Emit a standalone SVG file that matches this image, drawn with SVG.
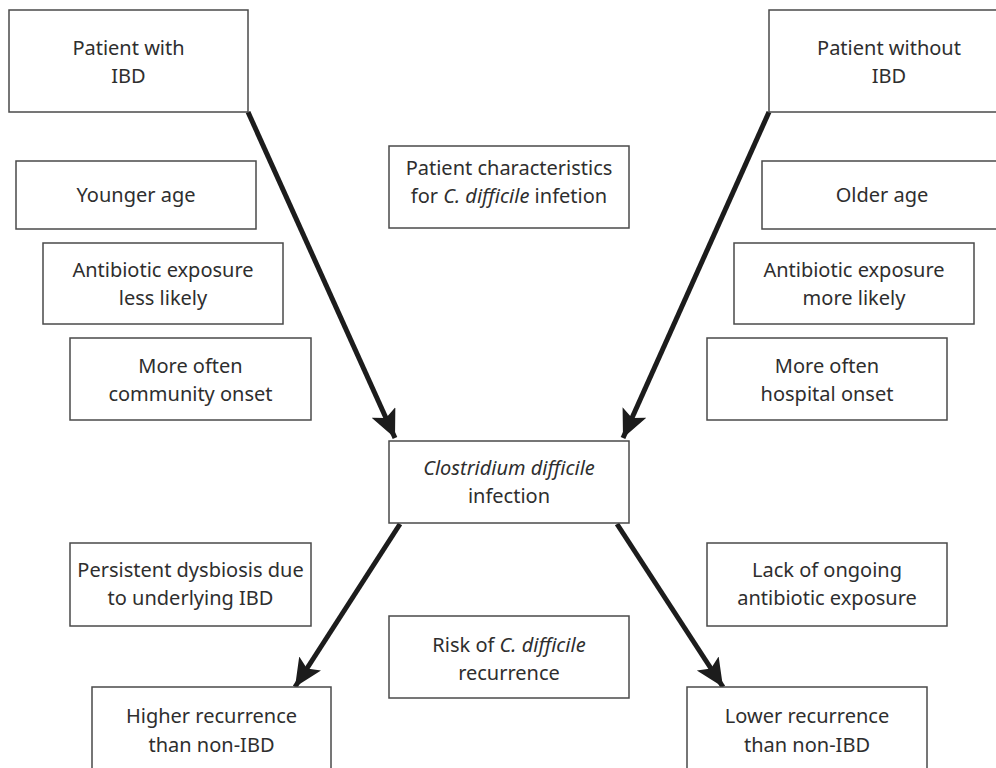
<svg xmlns="http://www.w3.org/2000/svg" width="996" height="768" viewBox="0 0 996 768">
<style>
.box{fill:#fff;stroke:#4a4a4a;stroke-width:1.5}
text{font-family:"Noto Sans","DejaVu Sans",sans-serif;font-size:20px;fill:#2e2e2e;text-anchor:middle}
.it{font-style:italic}
.arr{stroke:#1c1c1c;stroke-width:5;fill:none;marker-end:url(#ah)}
</style>
<defs>
<marker id="ah" markerUnits="userSpaceOnUse" markerWidth="32" markerHeight="28" refX="28" refY="13" orient="auto">
<path d="M0,0 L28,13 L0,26 L6,13 Z" fill="#1c1c1c"/>
</marker>
</defs>
<rect width="996" height="768" fill="#fff"/>
<g id="connectors">
<line class="arr" x1="248" y1="112" x2="395" y2="438"/>
<line class="arr" x1="769" y1="112" x2="623" y2="438"/>
<line class="arr" x1="400" y1="524" x2="295" y2="687"/>
<line class="arr" x1="617" y1="524" x2="723" y2="687"/>
</g>
<g id="patient-ibd"><rect class="box" x="9" y="10" width="239" height="102"/><text x="128.5" y="55">Patient with</text><text x="128.5" y="83">IBD</text></g>
<g id="patient-no-ibd"><rect class="box" x="769" y="10" width="240" height="102"/><text x="889" y="55">Patient without</text><text x="889" y="83">IBD</text></g>
<g id="char-title"><rect class="box" x="389" y="146" width="240" height="82"/><text x="509" y="175">Patient characteristics</text><text x="509" y="203">for <tspan class="it">C. difficile</tspan> infetion</text></g>
<g id="younger"><rect class="box" x="16" y="161" width="240" height="68"/><text x="136" y="202">Younger age</text></g>
<g id="older"><rect class="box" x="762" y="161" width="240" height="68"/><text x="882" y="202">Older age</text></g>
<g id="abx-less"><rect class="box" x="43" y="243" width="240" height="81"/><text x="163" y="277">Antibiotic exposure</text><text x="163" y="305">less likely</text></g>
<g id="abx-more"><rect class="box" x="734" y="243" width="240" height="81"/><text x="854" y="277">Antibiotic exposure</text><text x="854" y="305">more likely</text></g>
<g id="community"><rect class="box" x="70" y="338" width="241" height="82"/><text x="190.5" y="373">More often</text><text x="190.5" y="401">community onset</text></g>
<g id="hospital"><rect class="box" x="707" y="338" width="240" height="82"/><text x="827" y="373">More often</text><text x="827" y="401">hospital onset</text></g>
<g id="cdi"><rect class="box" x="389" y="441" width="240" height="82"/><text x="509" y="475" class="it">Clostridium difficile</text><text x="509" y="503">infection</text></g>
<g id="dysbiosis"><rect class="box" x="70" y="543" width="241" height="83"/><text x="190.5" y="577">Persistent dysbiosis due</text><text x="190.5" y="605">to underlying IBD</text></g>
<g id="lack-abx"><rect class="box" x="707" y="543" width="240" height="83"/><text x="827" y="577">Lack of ongoing</text><text x="827" y="605">antibiotic exposure</text></g>
<g id="risk-title"><rect class="box" x="389" y="616" width="240" height="82"/><text x="509" y="652">Risk of <tspan class="it">C. difficile</tspan></text><text x="509" y="680">recurrence</text></g>
<g id="higher"><rect class="box" x="92" y="687" width="239" height="90"/><text x="211.5" y="723">Higher recurrence</text><text x="211.5" y="752">than non-IBD</text></g>
<g id="lower"><rect class="box" x="687" y="687" width="240" height="90"/><text x="807" y="723">Lower recurrence</text><text x="807" y="752">than non-IBD</text></g>
</svg>
